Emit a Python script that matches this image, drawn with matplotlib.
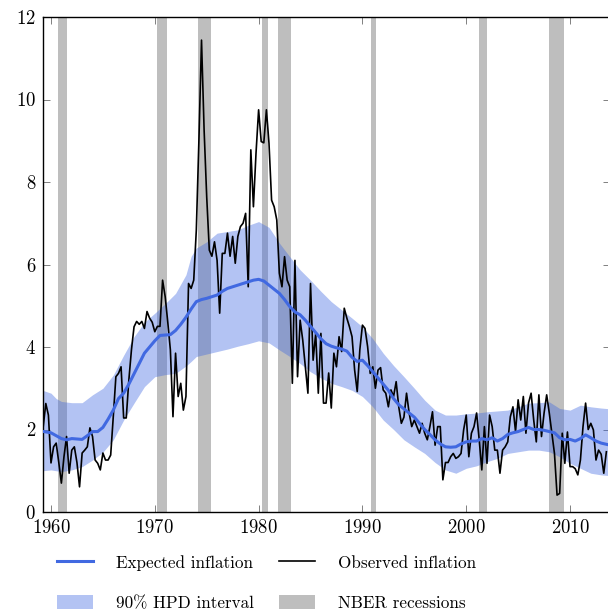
import numpy as np
import matplotlib
matplotlib.use("Agg")
import matplotlib.pyplot as plt
from matplotlib.patches import Patch
from matplotlib.lines import Line2D

plt.rcParams['font.family'] = ['cmr10', 'DejaVu Serif']
plt.rcParams['axes.formatter.use_mathtext'] = True
plt.rcParams['mathtext.fontset'] = 'cm'

# ---------------- data ----------------
obs_start = 1959.25   # first quarter plotted
obs_step = 0.25       # quarterly
observed = [
    2.07, 2.63, 2.35, 1.19,
    1.58, 1.67, 1.20, 0.70,
    1.34, 1.83, 0.94, 1.50,
    1.58, 1.20, 0.61, 1.43,
    1.50, 1.58, 2.04, 1.83,
    1.26, 1.18, 1.02, 1.43,
    1.26, 1.26, 1.38, 2.31,
    3.28, 3.36, 3.52, 2.28,
    2.28, 3.20, 3.93, 4.49,
    4.62, 4.55, 4.62, 4.45,
    4.86, 4.70, 4.60, 4.37,
    4.50, 4.50, 5.62, 5.22,
    4.60, 3.93, 2.31, 3.85,
    2.80, 3.12, 2.47, 2.80,
    5.54, 5.42, 5.62, 6.84,
    9.02, 11.44, 9.26, 7.64,
    6.35, 6.20, 6.55, 6.10,
    4.82, 6.27, 6.27, 6.76,
    6.20, 6.68, 6.03, 6.68,
    6.92, 7.00, 7.24, 5.46,
    8.78, 7.40, 8.70, 9.75,
    8.98, 8.95, 9.75, 8.94,
    7.56, 7.40, 7.08, 5.79,
    5.46, 6.19, 5.62, 5.46,
    3.12, 6.10, 3.28, 4.65,
    4.17, 3.52, 2.88, 5.54,
    3.68, 4.33, 2.88, 4.33,
    2.64, 2.64, 3.37, 2.52,
    3.85, 3.52, 4.25, 3.89,
    4.94, 4.70, 4.49, 4.25,
    3.44, 2.92, 3.93, 4.53,
    4.45, 4.01, 3.36, 3.52,
    3.00, 3.44, 3.50, 2.96,
    2.88, 2.55, 2.96, 2.80,
    3.16, 2.55, 2.15, 2.30,
    2.88, 2.40, 2.07, 2.23,
    2.07, 1.91, 2.15, 1.91,
    1.75, 2.07, 2.43, 1.62,
    2.07, 2.07, 0.78, 1.20,
    1.20, 1.34, 1.42, 1.30,
    1.34, 1.42, 1.99, 2.35,
    1.34, 1.91, 2.07, 2.40,
    1.75, 1.02, 2.07, 1.18,
    2.35, 2.07, 1.50, 1.50,
    0.94, 1.50, 1.58, 1.70,
    2.31, 2.55, 1.95, 2.72,
    2.23, 2.80, 1.91, 2.64,
    2.88, 2.23, 1.70, 2.84,
    1.83, 2.40, 2.84, 2.40,
    1.91, 1.42, 0.41, 0.45,
    1.91, 1.18, 1.94, 1.10,
    1.10, 1.05, 0.90, 1.26,
    2.07, 2.64, 2.00, 2.15,
    1.99, 1.26, 1.50, 1.40,
    0.94, 1.46,
]

exp_years = [1959.3, 1960, 1961, 1961.5, 1962, 1963, 1963.5, 1964, 1964.5, 1965,
             1965.5, 1966, 1966.5, 1967, 1967.5, 1968, 1968.5, 1969, 1969.5, 1970,
             1970.5, 1971, 1971.5, 1972, 1972.5, 1973, 1973.5, 1974, 1974.5, 1975,
             1975.5, 1976, 1976.5, 1977, 1978, 1979, 1979.5, 1980, 1980.5, 1981,
             1981.5, 1982, 1982.5, 1983, 1983.5, 1984, 1984.5, 1985, 1985.5, 1986,
             1986.5, 1987, 1987.5, 1988, 1988.5, 1989, 1989.5, 1990, 1990.5, 1991,
             1991.5, 1992, 1992.5, 1993, 1993.5, 1994, 1994.5, 1995, 1995.5, 1996,
             1996.5, 1997, 1997.5, 1998, 1998.5, 1999, 1999.5, 2000, 2000.5, 2001,
             2001.5, 2002, 2002.5, 2003, 2003.5, 2004, 2004.5, 2005, 2005.5, 2006,
             2006.5, 2007, 2007.5, 2008, 2008.5, 2009, 2009.5, 2010, 2010.5, 2011,
             2011.5, 2012, 2012.5, 2013, 2013.7]
expected = [1.95, 1.92, 1.78, 1.75, 1.78, 1.76, 1.85, 1.95, 1.95, 2.05,
            2.25, 2.47, 2.75, 2.88, 3.10, 3.35, 3.60, 3.85, 4.00, 4.15,
            4.28, 4.29, 4.30, 4.40, 4.55, 4.72, 4.92, 5.10, 5.15, 5.18,
            5.22, 5.26, 5.35, 5.42, 5.50, 5.58, 5.62, 5.64, 5.60, 5.50,
            5.40, 5.30, 5.15, 4.98, 4.85, 4.78, 4.65, 4.50, 4.35, 4.20,
            4.08, 4.02, 3.98, 3.95, 3.90, 3.75, 3.65, 3.68, 3.55, 3.40,
            3.25, 3.10, 2.95, 2.75, 2.60, 2.50, 2.40, 2.30, 2.15, 2.00,
            1.88, 1.75, 1.65, 1.58, 1.57, 1.58, 1.65, 1.70, 1.72, 1.72,
            1.78, 1.75, 1.80, 1.72, 1.78, 1.88, 1.92, 1.95, 2.00, 2.05,
            2.00, 2.00, 1.98, 1.95, 1.92, 1.80, 1.75, 1.76, 1.72, 1.78,
            1.87, 1.80, 1.72, 1.67, 1.63]

band_years = [1959.2, 1960, 1960.5, 1961, 1962, 1963, 1964, 1965, 1966, 1967,
              1968, 1969, 1970, 1971, 1972, 1973, 1973.5, 1974, 1975, 1976,
              1977, 1978, 1979, 1980, 1981, 1982, 1983, 1984, 1985, 1986,
              1987, 1988, 1989, 1990, 1991, 1992, 1993, 1994, 1995, 1996,
              1997, 1998, 1999, 2000, 2001, 2002, 2003, 2004, 2005, 2006,
              2007, 2008, 2009, 2010, 2011, 2012, 2013, 2013.9]
hpd_upper = [2.95, 2.88, 2.75, 2.68, 2.65, 2.65, 2.84, 3.00, 3.32, 3.80,
             4.25, 4.60, 4.82, 5.05, 5.30, 5.75, 6.20, 6.40, 6.55, 6.76,
             6.80, 6.84, 6.95, 7.04, 6.90, 6.52, 6.19, 5.87, 5.62, 5.35,
             5.10, 4.90, 4.70, 4.49, 4.20, 3.85, 3.55, 3.28, 3.00, 2.71,
             2.47, 2.35, 2.35, 2.38, 2.40, 2.43, 2.45, 2.47, 2.55, 2.64,
             2.65, 2.67, 2.51, 2.47, 2.59, 2.55, 2.52, 2.50]
hpd_lower = [1.00, 1.02, 1.00, 0.98, 1.02, 1.10, 1.26, 1.45, 1.75, 2.23,
             2.64, 3.04, 3.28, 3.33, 3.36, 3.54, 3.65, 3.77, 3.83, 3.89,
             3.95, 4.02, 4.08, 4.15, 4.10, 3.93, 3.77, 3.60, 3.40, 3.25,
             3.12, 3.04, 2.95, 2.80, 2.55, 2.23, 2.00, 1.75, 1.58, 1.42,
             1.20, 1.02, 0.94, 1.06, 1.12, 1.22, 1.30, 1.42, 1.46, 1.50,
             1.50, 1.46, 1.34, 1.18, 1.06, 0.94, 0.90, 0.88]

rec_start = [1960.70, 1970.18, 1974.16, 1980.36, 1981.87, 1990.83, 2001.26, 2007.98]
rec_end = [1961.51, 1971.15, 1975.39, 1980.88, 1983.09, 1991.34, 2002.00, 2009.45]

x_ticks = [1960, 1970, 1980, 1990, 2000, 2010]
y_ticks = [0, 2, 4, 6, 8, 10, 12]

# ---------------- styles ----------------
BLUE = '#4169e1'
GREY = '#bebebe'

fig = plt.figure(figsize=(6.08, 6.12), dpi=100)
ax = fig.add_axes([43 / 608, 100 / 612, 567 / 608, 495 / 612])

for s, e in zip(rec_start, rec_end):
    ax.axvspan(s, e, color=GREY, lw=0, zorder=1)

ax.fill_between(band_years, hpd_lower, hpd_upper, color=BLUE, alpha=0.4,
                lw=0, zorder=2)

obs_dates = obs_start + obs_step * np.arange(len(observed))
ax.plot(obs_dates, observed, color='black', lw=1.2, zorder=3)
ax.plot(exp_years, expected, color=BLUE, lw=2.2, zorder=4)

ax.set_xlim(1959.23, 2013.85)
ax.set_ylim(0, 12)
ax.set_xticks(x_ticks)
ax.set_yticks(y_ticks)
ax.tick_params(direction='in', length=5, width=0.7, color='#808080',
               top=True, right=True, labelsize=13.5, pad=5)
for side in ['left', 'bottom', 'top']:
    ax.spines[side].set_linewidth(1.0)
ax.spines['right'].set_visible(False)

handles = [
    Line2D([], [], color=BLUE, lw=2.2),
    Patch(facecolor=BLUE, alpha=0.4, lw=0),
    Line2D([], [], color='black', lw=1.2),
    Patch(facecolor=GREY, lw=0),
]
labels = ['Expected inflation', '90% HPD interval',
          'Observed inflation', 'NBER recessions']
fs = 12.3
fig.legend(handles, labels, ncol=2, frameon=False, fontsize=fs,
           loc='center left', bbox_to_anchor=(42 / 608, 1 - 583 / 612),
           handlelength=2.1, handleheight=0.85, handletextpad=1.35,
           columnspacing=1.45, labelspacing=1.45)

fig.savefig('out.png', dpi=100)
